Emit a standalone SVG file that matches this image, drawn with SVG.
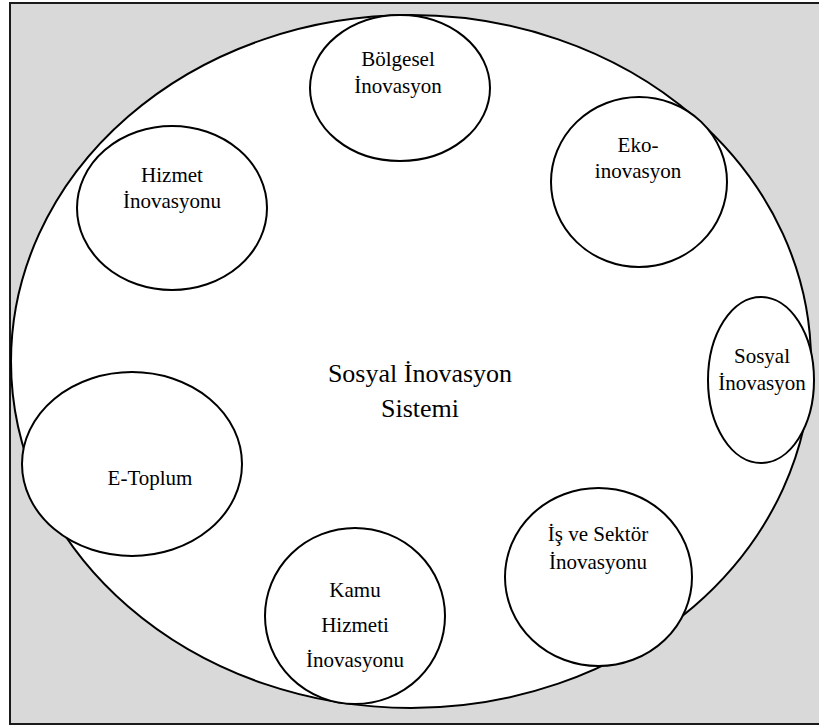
<svg xmlns="http://www.w3.org/2000/svg" width="819" height="726" viewBox="0 0 819 726">
  <style>
    .frame { fill: #d9d9d9; stroke: #1a1a1a; stroke-width: 2; }
    .system { fill: #ffffff; stroke: #000000; stroke-width: 2; }
    .node { fill: #ffffff; stroke: #000000; stroke-width: 2; }
    text { font-family: "Liberation Serif", "Times New Roman", serif; fill: #000000; text-anchor: middle; }
    .lbl { font-size: 21px; }
    .title { font-size: 26px; }
  </style>
  <!-- grey backdrop panel -->
  <rect class="frame" x="10" y="3" width="820" height="721"/>
  <g id="system">
    <ellipse class="system" cx="411" cy="361.5" rx="400" ry="346.5"/>
    <text class="title" x="420" y="382">Sosyal İnovasyon</text>
    <text class="title" x="420" y="417">Sistemi</text>
  </g>
  <g id="bolgesel">
    <ellipse class="node" cx="400" cy="88" rx="90" ry="73"/>
    <text class="lbl" x="398" y="66">Bölgesel</text>
    <text class="lbl" x="398" y="93">İnovasyon</text>
  </g>
  <g id="eko">
    <ellipse class="node" cx="639" cy="182" rx="88" ry="85"/>
    <text class="lbl" x="638" y="152">Eko-</text>
    <text class="lbl" x="638" y="178">inovasyon</text>
  </g>
  <g id="hizmet">
    <ellipse class="node" cx="172" cy="208" rx="95" ry="82"/>
    <text class="lbl" x="172" y="182">Hizmet</text>
    <text class="lbl" x="172" y="208">İnovasyonu</text>
  </g>
  <g id="sosyal">
    <ellipse class="node" cx="761" cy="380" rx="53" ry="83"/>
    <text class="lbl" x="762" y="363">Sosyal</text>
    <text class="lbl" x="762" y="390">İnovasyon</text>
  </g>
  <g id="etoplum">
    <ellipse class="node" cx="132" cy="464" rx="110" ry="92"/>
    <text class="lbl" x="150" y="485">E-Toplum</text>
  </g>
  <g id="kamu">
    <ellipse class="node" cx="355" cy="616" rx="90" ry="88"/>
    <text class="lbl" x="355" y="597">Kamu</text>
    <text class="lbl" x="355" y="632">Hizmeti</text>
    <text class="lbl" x="355" y="667">İnovasyonu</text>
  </g>
  <g id="isvesektor">
    <ellipse class="node" cx="598.5" cy="577" rx="93.5" ry="89"/>
    <text class="lbl" x="598" y="541">İş ve Sektör</text>
    <text class="lbl" x="598" y="569">İnovasyonu</text>
  </g>
  <g id="connectors"/>
</svg>
